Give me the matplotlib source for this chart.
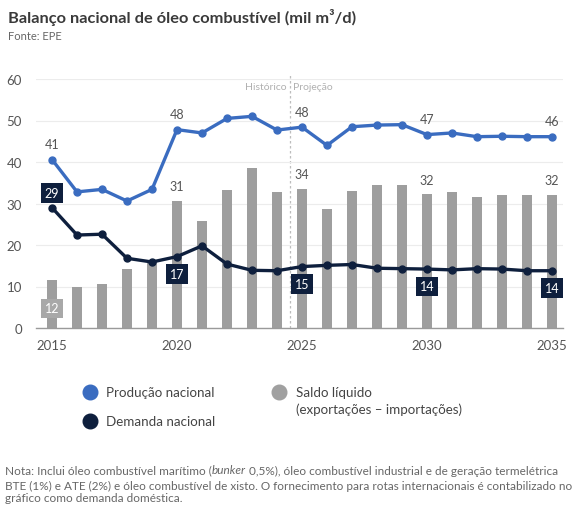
import matplotlib
matplotlib.use('Agg')
import matplotlib.pyplot as plt
from matplotlib.lines import Line2D

plt.rcParams['font.family'] = ['Lato', 'DejaVu Sans']

years = list(range(2015, 2036))
producao = [40.6, 32.8, 33.4, 30.6, 33.4, 47.8, 47.0, 50.5, 51.0, 47.7,
            48.4, 44.0, 48.5, 48.9, 49.0, 46.6, 47.0, 46.1, 46.2, 46.1, 46.1]
demanda = [29.0, 22.4, 22.6, 16.8, 15.9, 17.2, 19.8, 15.4, 13.9, 13.8,
           14.8, 15.1, 15.3, 14.4, 14.3, 14.2, 14.0, 14.3, 14.2, 13.8, 13.8]
saldo = [11.6, 10.0, 10.6, 14.2, 15.8, 30.6, 25.8, 33.3, 38.6, 32.8,
         33.6, 28.6, 33.0, 34.4, 34.4, 32.2, 32.8, 31.6, 32.0, 32.1, 32.1]
label_years = [2015, 2020, 2025, 2030, 2035]

BLUE = '#3a6cc0'
NAVY = '#0e1f3d'
GRAY_BAR = '#9e9e9e'
TEXT = '#555555'

fig = plt.figure(figsize=(5.75, 5.06), dpi=100)
fig.patch.set_facecolor('white')
ax = fig.add_axes([36 / 575, 1 - 329 / 506, (563 - 36) / 575, (329 - 80) / 506])

ax.bar(years, saldo, width=0.38, color=GRAY_BAR, zorder=2)
ax.plot(years, producao, color=BLUE, lw=2.4, marker='o', ms=5, zorder=4)
ax.plot(years, demanda, color=NAVY, lw=2.4, marker='o', ms=5, zorder=4)

ax.set_xlim(2014.36, 2035.44)
ax.set_ylim(0, 60)
ax.set_yticks(range(0, 61, 10))
ax.set_xticks([2015, 2020, 2025, 2030, 2035])
ax.grid(axis='y', color='#ececec', lw=0.8, zorder=0)
for s in ['top', 'right', 'left']:
    ax.spines[s].set_visible(False)
ax.spines['bottom'].set_color('#9a9a9a')
ax.spines['bottom'].set_linewidth(1.0)
ax.tick_params(length=0, labelsize=9.5, colors=TEXT)
ax.tick_params(axis='x', pad=8)
ax.tick_params(axis='y', pad=10)

# historic / projection split
ax.axvline(2024.5, ymin=0, ymax=1.02, color='#bdbdbd', lw=0.9, ls=(0, (2, 2)), zorder=1, clip_on=False)
ax.text(2024.38, 58.2, 'Histórico', ha='right', va='center', fontsize=7.5, color='#b0b0b0')
ax.text(2024.62, 58.2, 'Projeção', ha='left', va='center', fontsize=7.5, color='#b0b0b0')

# value labels
for y in label_years:
    i = years.index(y)
    ax.annotate(f'{producao[i]:.0f}', (y, producao[i]), xytext=(0, 11), textcoords='offset points',
                ha='center', va='center', fontsize=9, color=TEXT, zorder=6)
    if y == 2015:
        ax.annotate(f'{saldo[i]:.0f}', (y, saldo[i]), xytext=(0, -20.5), textcoords='offset points',
                    ha='center', va='center', fontsize=9, color='white', zorder=6,
                    bbox=dict(boxstyle='square,pad=0.3', fc='#a8a8a8', ec='none'))
    else:
        ax.annotate(f'{saldo[i]:.0f}', (y, saldo[i]), xytext=(0, 10.5), textcoords='offset points',
                    ha='center', va='center', fontsize=9, color=TEXT, zorder=6)
    dy = 10.5 if y == 2015 else -12.5
    ax.annotate(f'{demanda[i]:.0f}', (y, demanda[i]), xytext=(0, dy), textcoords='offset points',
                ha='center', va='center', fontsize=9, color='white', zorder=6,
                bbox=dict(boxstyle='square,pad=0.3', fc=NAVY, ec='none'))

# title
fig.text(8 / 575, 1 - 18 / 506, 'Balanço nacional de óleo combustível (mil m³/d)',
         fontsize=11.8, fontweight='bold', color='#3a3a3a', va='center')
fig.text(8 / 575, 1 - 36 / 506, 'Fonte: EPE', fontsize=8, color='#666666', va='center')

# legend
def legend_dot(x, y, color):
    fig.add_artist(Line2D([x / 575], [1 - y / 506], marker='o', ms=10.5, color=color, ls='none',
                          transform=fig.transFigure))

legend_fs = 9.6
legend_dot(90, 393, BLUE)
legend_dot(90, 422, NAVY)
legend_dot(279, 393, '#a0a0a0')
fig.text(106 / 575, 1 - 393 / 506, 'Produção nacional', fontsize=legend_fs, color='#444444', va='center')
fig.text(106 / 575, 1 - 422 / 506, 'Demanda nacional', fontsize=legend_fs, color='#444444', va='center')
fig.text(296 / 575, 1 - 393 / 506, 'Saldo líquido', fontsize=legend_fs, color='#444444', va='center')
fig.text(296 / 575, 1 - 410 / 506, '(exportações – importações)', fontsize=legend_fs, color='#444444', va='center')

# footnote, with the italic word placed after measuring the first piece
note_fs = 8.5
note_color = '#666666'
renderer = fig.canvas.get_renderer()
x0 = 5 / 575
y1 = 1 - 471 / 506
t1 = fig.text(x0, y1, 'Nota: Inclui óleo combustível marítimo (', fontsize=note_fs, color=note_color, va='center')
bb = t1.get_window_extent(renderer)
t2 = fig.text(bb.x1 / fig.bbox.width, y1, 'bunker', fontsize=note_fs, color=note_color, va='center', style='italic')
bb = t2.get_window_extent(renderer)
fig.text(bb.x1 / fig.bbox.width, y1, ' 0,5%), óleo combustível industrial e de geração termelétrica',
         fontsize=note_fs, color=note_color, va='center')
fig.text(x0, 1 - 486 / 506, 'BTE (1%) e ATE (2%) e óleo combustível de xisto. O fornecimento para rotas internacionais é contabilizado no',
         fontsize=note_fs, color=note_color, va='center')
fig.text(x0, 1 - 499 / 506, 'gráfico como demanda doméstica.', fontsize=note_fs, color=note_color, va='center')

fig.savefig('out.png', dpi=100, facecolor='white')
